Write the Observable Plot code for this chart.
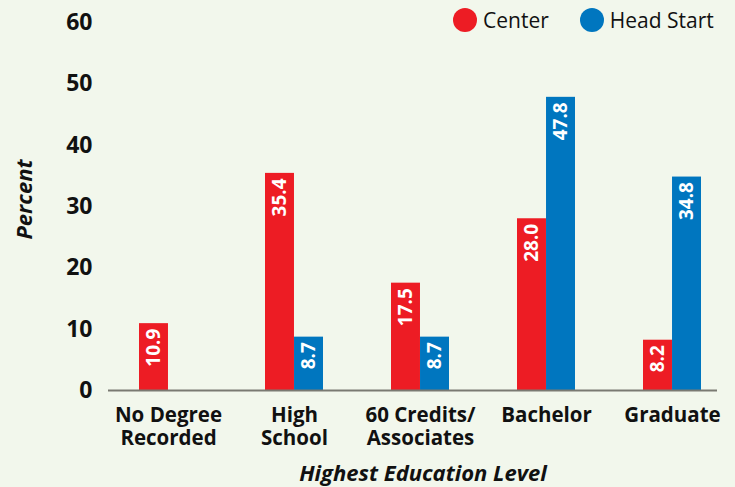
<!DOCTYPE html>
<html>
<head>
<meta charset="utf-8">
<script src="https://cdn.jsdelivr.net/npm/d3@7"></script>
<script src="https://cdn.jsdelivr.net/npm/@observablehq/plot@0.6"></script>
<style>
  html, body { margin: 0; padding: 0; background: #f2f7ec; }
  #wrap { position: relative; width: 735px; height: 487px; font-family: 'Open Sans', sans-serif; }
  .legend { position: absolute; top: 6px; left: 453px; display: flex; align-items: center; font-size: 21px; color: #111; white-space: nowrap; }
  .legend .sw { width: 24px; height: 24px; border-radius: 50%; display: inline-block; margin-right: 6px; }
  .legend .item { display: flex; align-items: center; margin-right: 31px; }
</style>
</head>
<body>
<div id="wrap"></div>
<script>
const categories = ["No Degree\nRecorded", "High\nSchool", "60 Credits/\nAssociates", "Bachelor", "Graduate"];
const series = ["Center", "Head Start"];
const centerValues = [10.9, 35.4, 17.5, 28.0, 8.2];
const headStartValues = [null, 8.7, 8.7, 47.8, 34.8];
const seriesColors = ["#ED1C24", "#0076BF"];
const yTicks = [0, 10, 20, 30, 40, 50, 60];
const yLabel = "Percent";
const xLabel = "Highest Education Level";

const rows = [];
categories.forEach((c, i) => {
  if (centerValues[i] != null) rows.push({category: c, series: series[0], value: centerValues[i]});
  if (headStartValues[i] != null) rows.push({category: c, series: series[1], value: headStartValues[i]});
});

const W = 735, H = 487, mL = 108, mR = 18, mT = 22, mB = 97;
const pInner = 0.54, pOuter = 0.183, align = 0.652;
const bw = d3.scaleBand().domain(categories).range([mL, W - mR])
  .paddingInner(pInner).paddingOuter(pOuter).align(align).bandwidth();

const centerRows = rows.filter(d => d.series === series[0]);
const hsRows = rows.filter(d => d.series === series[1]);
const lbl = {rotate: -90, textAnchor: "end", dy: 5, fill: "white", fontWeight: "bold", fontSize: 19, text: d => d.value.toFixed(1)};

const chart = Plot.plot({
  width: W, height: H,
  marginLeft: mL, marginRight: mR, marginTop: mT, marginBottom: mB,
  style: {fontFamily: "'Open Sans', sans-serif", background: "#f2f7ec", color: "#111"},
  x: {type: "band", domain: categories, paddingInner: pInner, paddingOuter: pOuter, align: align, label: null},
  y: {domain: [0, 60], label: null},
  color: {domain: series, range: seriesColors},
  marks: [
    Plot.barY(centerRows, {x: "category", y: "value", fill: "series", insetRight: bw / 2}),
    Plot.barY(hsRows, {x: "category", y: "value", fill: "series", insetLeft: bw / 2}),
    Plot.ruleY([0], {stroke: "#7a7a72", strokeWidth: 2}),
    Plot.text(centerRows, {x: "category", y: "value", dx: -bw / 4, ...lbl}),
    Plot.text(hsRows, {x: "category", y: "value", dx: bw / 4, ...lbl}),
    Plot.axisY({ticks: yTicks, tickSize: 0, tickPadding: 16, fontSize: 23, fontWeight: "bold", label: null}),
    Plot.axisX({tickSize: 0, tickPadding: 15, fontSize: 20.5, fontWeight: "bold", lineHeight: 1.12, label: null}),
    Plot.text([yLabel], {frameAnchor: "left", textAnchor: "middle", lineAnchor: "middle", dx: -84, dy: -7, rotate: -90, fontWeight: "bold", fontStyle: "italic", fontSize: 22}),
    Plot.text([xLabel], {frameAnchor: "bottom", textAnchor: "middle", lineAnchor: "middle", dx: 10, dy: 83, fontWeight: "bold", fontStyle: "italic", fontSize: 22})
  ]
});

const wrap = document.getElementById("wrap");
wrap.appendChild(chart);
const legend = document.createElement("div");
legend.className = "legend";
series.forEach((s, i) => {
  const item = document.createElement("span");
  item.className = "item";
  const sw = document.createElement("span");
  sw.className = "sw";
  sw.style.background = seriesColors[i];
  item.appendChild(sw);
  item.appendChild(document.createTextNode(s));
  legend.appendChild(item);
});
wrap.appendChild(legend);
</script>
</body>
</html>
